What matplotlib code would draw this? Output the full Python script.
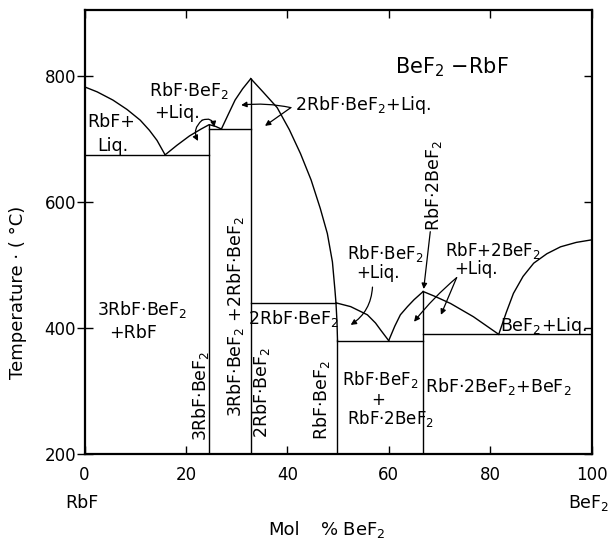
import matplotlib
matplotlib.use("Agg")
import matplotlib.pyplot as plt

plt.rcParams['font.family'] = ['DejaVu Sans']
plt.rcParams['mathtext.fontset'] = 'dejavusans'

# ---- data (mol % BeF2, temperature degC) ----
rbf_liq_x = [0, 2.5, 5.6, 8.4, 11.0, 12.8, 14.3, 15.9]
rbf_liq_t = [783, 775, 762, 747, 730, 714, 698, 675]

r3_liq_x = [15.9, 18.2, 20.7, 23.0, 24.6, 25.9, 27.0]
r3_liq_t = [675, 690, 705, 716, 723, 720, 716]

r2_left_x = [27.0, 28.4, 29.7, 31.2, 32.8]
r2_left_t = [716, 740, 762, 780, 796]

r2_right_x = [32.8, 35.2, 38.0, 40.4, 42.6, 44.7, 46.5, 47.9, 48.9, 49.4, 49.6, 49.8, 49.9]
r2_right_t = [796, 775, 750, 715, 677, 635, 590, 550, 505, 460, 440, 410, 381]

r1_liq_x = [49.6, 52.5, 55.8, 57.4, 58.4, 60.0]
r1_liq_t = [440, 434, 421, 408, 397, 380]

r12_left_x = [60.0, 61.2, 62.3, 63.7, 65.0, 66.8]
r12_left_t = [380, 403, 421, 434, 445, 458]

r12_right_x = [66.8, 69.2, 72.2, 76.7, 79.2, 81.7]
r12_right_t = [458, 450, 439, 418, 404, 390]

bef2_liq_x = [81.7, 83.2, 84.6, 86.5, 88.6, 91.2, 93.9, 97.0, 100]
bef2_liq_t = [390, 425, 455, 482, 503, 518, 529, 536, 540]

# invariant (horizontal) lines: (x_start, x_end, temperature)
horiz_lines = [(0, 24.6, 675), (24.6, 32.8, 716), (32.8, 49.6, 440),
               (49.9, 66.8, 380), (66.8, 100, 390)]
# compound verticals: (x, t_top)
vert_lines = [(24.6, 723), (32.8, 796), (49.9, 381), (66.8, 458)]

x_ticks = [0, 20, 40, 60, 80, 100]
y_ticks = [200, 400, 600, 800]

fig = plt.figure(figsize=(6.13, 5.39), dpi=100)
ax = fig.add_axes([84.5/613, 1-454/539, (591.5-84.5)/613, (454-10)/539])
ax.set_xlim(0, 100)
ax.set_ylim(200, 905)

lw = 1.0
k = 'black'
for xs, ts in [(rbf_liq_x, rbf_liq_t), (r3_liq_x, r3_liq_t), (r2_left_x, r2_left_t),
               (r2_right_x, r2_right_t), (r1_liq_x, r1_liq_t), (r12_left_x, r12_left_t),
               (r12_right_x, r12_right_t), (bef2_liq_x, bef2_liq_t)]:
    ax.plot(xs, ts, color=k, lw=lw)
for x0, x1, t in horiz_lines:
    ax.plot([x0, x1], [t, t], color=k, lw=lw)
for x, t in vert_lines:
    ax.plot([x, x], [200, t], color=k, lw=lw)

for s in ax.spines.values():
    s.set_linewidth(1.6)

ax.set_xticks(x_ticks)
ax.set_xticklabels([str(v) for v in x_ticks])
ax.set_yticks(y_ticks)
ax.set_yticklabels([str(v) for v in y_ticks])
ax.tick_params(axis='x', direction='in', length=6, width=1, top=True, bottom=True,
               labelsize=12, pad=9)
ax.tick_params(axis='y', direction='inout', length=12, width=1, left=True, right=False,
               labelsize=12, pad=0)
ax2 = ax.twinx()
ax2.set_ylim(200, 905)
ax2.set_yticks(y_ticks)
ax2.tick_params(axis='y', direction='in', length=6, width=1, labelright=False)
for s in ax2.spines.values():
    s.set_visible(False)

fs = 12.5
def T(x, y, s, **kw):
    kw.setdefault('fontsize', fs)
    ax.text(x, y, s, ha=kw.pop('ha', 'center'), va=kw.pop('va', 'center'), **kw)

T(72.5, 814, 'BeF$_2$ \u2212RbF', fontsize=15)
T(5.3, 727, 'RbF+')
T(5.6, 689, 'Liq.')
T(20.6, 777, 'RbF\u00b7BeF$_2$')
T(18.2, 741, '+Liq.')
T(41.5, 754, '2RbF\u00b7BeF$_2$+Liq.', ha='left')
T(11.4, 429, '3RbF\u00b7BeF$_2$')
T(9.6, 392, '+RbF')
T(22.8, 293, '3RbF\u00b7BeF$_2$', rotation=90)
T(29.7, 418, '3RbF\u00b7BeF$_2$ +2RbF\u00b7BeF$_2$', rotation=90)
T(34.9, 297, '2RbF\u00b7BeF$_2$', rotation=90)
T(46.8, 286, 'RbF\u00b7BeF$_2$', rotation=90)
T(41.3, 415, '2RbF\u00b7BeF$_2$')
T(59.3, 519, 'RbF\u00b7BeF$_2$', fontsize=12)
T(57.8, 487, '+Liq.', fontsize=12)
T(68.8, 627, 'RbF\u00b72BeF$_2$', rotation=90)
T(80.5, 523, 'RbF+2BeF$_2$', fontsize=12)
T(77.2, 494, '+Liq.', fontsize=12)
T(90.6, 404, 'BeF$_2$+Liq.')
T(58.3, 318, 'RbF\u00b7BeF$_2$', fontsize=12)
T(57.9, 285, '+', fontsize=12)
T(60.3, 256, 'RbF\u00b72BeF$_2$', fontsize=12)
T(81.6, 307, 'RbF\u00b72BeF$_2$+BeF$_2$')

def arrow(p0, p1, rad=0.0):
    ax.annotate('', xy=p1, xytext=p0,
                arrowprops=dict(arrowstyle='-|>', color=k, lw=0.9, mutation_scale=8,
                                shrinkA=0, shrinkB=0,
                                connectionstyle='arc3,rad=%g' % rad))

arrow((23.2, 730), (22.4, 697), rad=0.4)
arrow((23.2, 730), (25.6, 719), rad=-0.6)
arrow((40.7, 750), (30.9, 754), rad=0.08)
arrow((40.7, 750), (35.6, 721), rad=0.0)
arrow((56.8, 465), (52.5, 405), rad=-0.25)
arrow((68.2, 553), (66.9, 462), rad=0.0)
arrow((73.4, 480), (65.0, 410), rad=0.05)
arrow((73.4, 480), (70.3, 421), rad=0.0)

# axis labels
fig.text(81.5/613, 1-503/539, 'RbF', ha='center', va='center', fontsize=12.5)
fig.text(589/613, 1-503/539, 'BeF$_2$', ha='center', va='center', fontsize=12.5)
fig.text(284/613, 1-530/539, 'Mol', ha='center', va='center', fontsize=13)
fig.text(320/613, 1-530/539, '% BeF$_2$', ha='left', va='center', fontsize=13)
fig.text(18/613, 1-292/539, 'Temperature \u00b7 ( \u00b0C)', ha='center', va='center',
         rotation=90, fontsize=13)

fig.savefig('out.png', dpi=100)
